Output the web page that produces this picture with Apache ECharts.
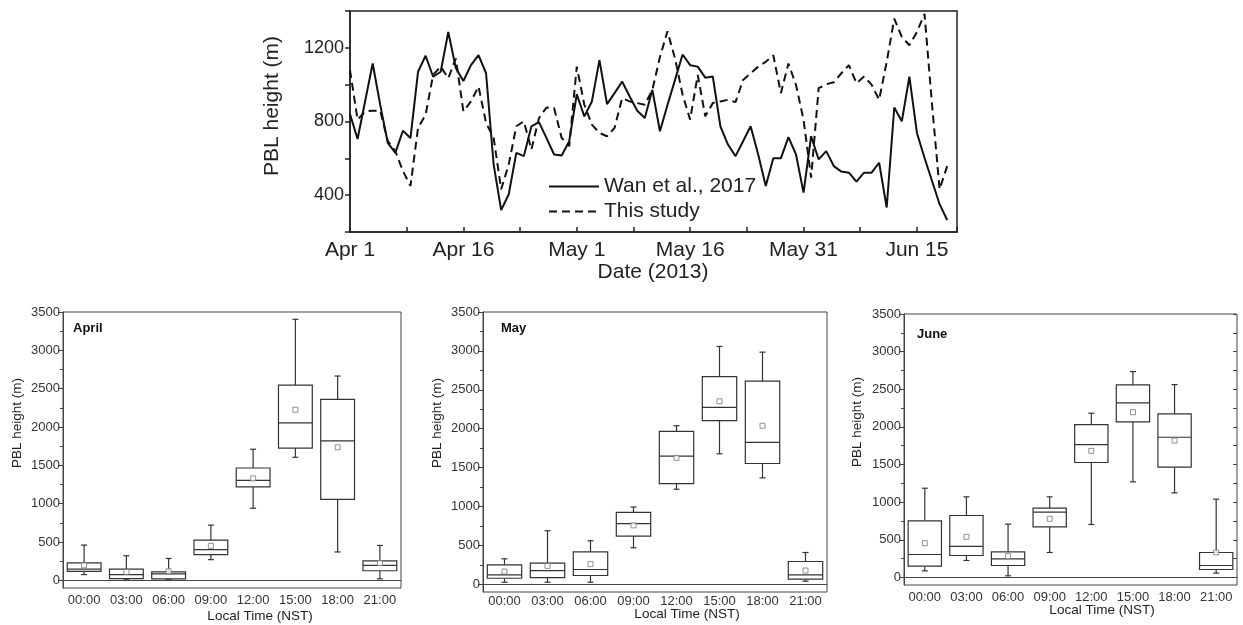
<!DOCTYPE html>
<html>
<head>
<meta charset="utf-8">
<script src="https://cdn.jsdelivr.net/npm/echarts@6/dist/echarts.min.js"></script>
<style>
  html, body { margin: 0; padding: 0; background: #fff; }
  #chart { width: 1243px; height: 625px; }
</style>
</head>
<body>
<div id="chart"></div>
<script>
// daily PBL height, Apr 1 (day 0) .. Jun 19 (day 79)
var wan = [840, 705, 910, 1115, 890, 684, 630, 750, 710, 1070,
  1157, 1043, 1070, 1286, 1090, 1020, 1106, 1160, 1062, 567,
  319, 405, 630, 612, 774, 797, 710, 621, 615, 693,
  948, 828, 909, 1133, 894, 954, 1017, 936, 858, 819,
  972, 747, 890, 1026, 1164, 1106, 1098, 1038, 1044, 774,
  675, 612, 693, 774, 621, 450, 600, 600, 715, 621,
  414, 720, 594, 639, 558, 528, 522, 474, 522, 522,
  576, 333, 876, 801, 1044, 738, 603, 477, 351, 265];
var study = [1080, 810, 855, 858, 858, 693, 639, 531, 450, 765,
  837, 1053, 1098, 1035, 1142, 855, 909, 990, 792, 711,
  432, 567, 774, 801, 648, 819, 876, 873, 711, 666,
  1098, 891, 783, 738, 720, 765, 927, 909, 900, 891,
  972, 1150, 1290, 1142, 945, 810, 1053, 828, 900, 909,
  918, 905, 1026, 1062, 1098, 1124, 1160, 954, 1115, 999,
  810, 495, 981, 1002, 1013, 1062, 1106, 1008, 1044, 1000,
  918, 1124, 1358, 1259, 1214, 1286, 1385, 891, 432, 558];
var dateLabels = ['Apr 1', 'Apr 16', 'May 1', 'May 16', 'May 31', 'Jun 15'];

var hours = ['00:00', '03:00', '06:00', '09:00', '12:00', '15:00', '18:00', '21:00'];
// [low, q1, median, q3, high]
var aprBox = [[75, 118, 145, 227, 460], [15, 22, 75, 145, 320], [15, 20, 85, 110, 285], [270, 335, 400, 525, 720],
  [940, 1220, 1305, 1465, 1710], [1605, 1725, 2055, 2545, 3405], [370, 1055, 1820, 2360, 2665], [20, 125, 195, 255, 455]];
var aprMean = [196, 110, 118, 450, 1330, 2225, 1735, 225];
var mayBox = [[26, 77, 120, 250, 327], [26, 86, 176, 271, 688], [26, 112, 189, 417, 559], [469, 619, 778, 925, 993],
  [1221, 1294, 1647, 1965, 2038], [1677, 2103, 2275, 2670, 3057], [1367, 1552, 1823, 2610, 2984], [39, 65, 120, 292, 408]];
var mayMean = [163, 236, 258, 757, 1625, 2352, 2038, 176];
var junBox = [[88, 150, 305, 752, 1186], [226, 292, 412, 823, 1071], [22, 159, 248, 341, 708], [332, 673, 867, 920, 1071],
  [704, 1527, 1766, 2031, 2182], [1270, 2066, 2319, 2558, 2735], [1124, 1465, 1863, 2173, 2562], [58, 106, 159, 332, 1040]];
var junMean = [456, 540, 283, 779, 1682, 2195, 1819, 332];

var majorVals = [0, 500, 1000, 1500, 2000, 2500, 3000, 3500];
var minorVals = [250, 750, 1250, 1750, 2250, 2750, 3250];

var font = 'Liberation Sans, Arial, sans-serif';
var chart = echarts.init(document.getElementById('chart'));

function renderBox(params, api) {
  var x = api.value(0);
  var low = api.coord([x, api.value(1)]);
  var q1 = api.coord([x, api.value(2)]);
  var med = api.coord([x, api.value(3)]);
  var q3 = api.coord([x, api.value(4)]);
  var high = api.coord([x, api.value(5)]);
  var half = api.size([1, 0])[0] * 0.4;
  var cx = low[0], cap = 3;
  var st = { stroke: '#333', lineWidth: 1.2 };
  return {
    type: 'group',
    children: [
      { type: 'line', shape: { x1: cx, y1: q3[1], x2: cx, y2: high[1] }, style: st },
      { type: 'line', shape: { x1: cx, y1: q1[1], x2: cx, y2: low[1] }, style: st },
      { type: 'line', shape: { x1: cx - cap, y1: high[1], x2: cx + cap, y2: high[1] }, style: st },
      { type: 'line', shape: { x1: cx - cap, y1: low[1], x2: cx + cap, y2: low[1] }, style: st },
      { type: 'rect', shape: { x: cx - half, y: q3[1], width: half * 2, height: q1[1] - q3[1] },
        style: { stroke: '#333', lineWidth: 1.2, fill: '#fff' } },
      { type: 'line', shape: { x1: cx - half, y1: med[1], x2: cx + half, y2: med[1] }, style: st }
    ]
  };
}

var boxGrids = [
  { left: 63, top: 312, width: 338, height: 276 },
  { left: 483, top: 312, width: 344, height: 280 },
  { left: 904, top: 314, width: 333, height: 271 }
];
var labelMargins = [6, 3, 6];
var grids = [{ left: 350, top: 11, width: 607, height: 221, show: true, borderColor: '#222', borderWidth: 1.5 }];
boxGrids.forEach(function (g) {
  grids.push(Object.assign({ show: true, borderColor: '#444', borderWidth: 1 }, g));
});

var xAxes = [{
  type: 'value', gridIndex: 0, min: 0, max: 80.3, interval: 7.5,
  axisLine: { lineStyle: { color: '#222', width: 1.5 } },
  axisTick: { inside: true, length: 5, lineStyle: { color: '#222', width: 1.5 } },
  splitLine: { show: false },
  axisLabel: {
    fontSize: 21, fontFamily: font, color: '#222', margin: 8,
    formatter: function (v) { return v % 15 === 0 ? dateLabels[v / 15] : ''; }
  }
}];
var yAxes = [{
  type: 'value', gridIndex: 0, min: 200, max: 1400, interval: 200,
  axisLine: { show: true, lineStyle: { color: '#222', width: 1.5 } },
  axisTick: { show: true, length: 5, lineStyle: { color: '#222', width: 1.5 } },
  splitLine: { show: false },
  axisLabel: {
    fontSize: 18, fontFamily: font, color: '#222', margin: 6,
    formatter: function (v) { return (v % 400 === 0 && v < 1400) ? String(v) : ''; }
  }
}];

[1, 2, 3].forEach(function (g) {
  xAxes.push({
    type: 'category', gridIndex: g, data: hours,
    axisLine: { lineStyle: { color: '#444' } },
    axisTick: { alignWithLabel: true, inside: true, length: 4, lineStyle: { color: '#444' } },
    axisLabel: { fontSize: 13, fontFamily: font, color: '#333', margin: labelMargins[g - 1], interval: 0 }
  });
  yAxes.push({
    type: 'value', gridIndex: g, min: -100, max: 3500, position: 'left',
    axisLine: { show: true, lineStyle: { color: '#444' } },
    axisTick: { show: true, length: 5, customValues: majorVals, lineStyle: { color: '#444' } },
    axisLabel: {
      fontSize: 13, fontFamily: font, color: '#333', margin: 3, customValues: majorVals,
      formatter: function (v) { return String(v); }
    },
    splitLine: { show: false }
  });
  yAxes.push({
    type: 'value', gridIndex: g, min: -100, max: 3500, position: 'left',
    axisLine: { show: false },
    axisTick: { show: true, length: 3, customValues: minorVals, lineStyle: { color: '#444' } },
    axisLabel: { show: false },
    splitLine: { show: false }
  });
});
// June panel has mirrored ticks on top and right
xAxes.push({
  type: 'category', gridIndex: 3, data: hours, position: 'top',
  axisLine: { show: false },
  axisTick: { alignWithLabel: true, inside: true, length: 4, lineStyle: { color: '#444' } },
  axisLabel: { show: false }
});
yAxes.push({
  type: 'value', gridIndex: 3, min: -100, max: 3500, position: 'right',
  axisLine: { show: false },
  axisTick: { show: true, inside: true, length: 4, customValues: majorVals.concat(minorVals), lineStyle: { color: '#444' } },
  axisLabel: { show: false },
  splitLine: { show: false }
});

var series = [
  { name: 'Wan et al., 2017', type: 'line', xAxisIndex: 0, yAxisIndex: 0, symbol: 'none',
    data: wan.map(function (v, i) { return [i, v]; }),
    lineStyle: { color: '#111', width: 2 }, itemStyle: { color: '#111' } },
  { name: 'This study', type: 'line', xAxisIndex: 0, yAxisIndex: 0, symbol: 'none',
    data: study.map(function (v, i) { return [i, v]; }),
    lineStyle: { color: '#111', width: 2, type: [8, 5] }, itemStyle: { color: '#111' } }
];
[[aprBox, aprMean], [mayBox, mayMean], [junBox, junMean]].forEach(function (m, k) {
  series.push({
    type: 'custom', xAxisIndex: k + 1, yAxisIndex: 1 + k * 2, renderItem: renderBox,
    encode: { x: 0, y: [1, 2, 3, 4, 5] },
    data: m[0].map(function (b, i) { return [i].concat(b); })
  });
  series.push({
    type: 'scatter', xAxisIndex: k + 1, yAxisIndex: 1 + k * 2, symbol: 'rect', symbolSize: 5,
    itemStyle: { color: '#fff', borderColor: '#777', borderWidth: 1 },
    data: m[1].map(function (v, i) { return [i, v]; })
  });
});

function txt(x, y, s, size, opts) {
  return Object.assign({
    type: 'text', x: x, y: y, rotation: 0,
    style: { text: s, fontSize: size, fontFamily: font, fill: '#222', textAlign: 'center', textVerticalAlign: 'middle' }
  }, opts || {});
}

var graphics = [
  txt(272, 106, 'PBL height (m)', 21, { rotation: Math.PI / 2 }),
  txt(653, 272, 'Date (2013)', 21),
  txt(17, 423, 'PBL height (m)', 13.5, { rotation: Math.PI / 2 }),
  txt(437, 423, 'PBL height (m)', 13.5, { rotation: Math.PI / 2 }),
  txt(857, 422, 'PBL height (m)', 13.5, { rotation: Math.PI / 2 }),
  txt(260, 616, 'Local Time (NST)', 13.5),
  txt(687, 614, 'Local Time (NST)', 13.5),
  txt(1102, 610, 'Local Time (NST)', 13.5)
];
[['April', 73, 328], ['May', 501, 328], ['June', 917, 334]].forEach(function (m) {
  graphics.push({
    type: 'text', x: m[1], y: m[2],
    style: { text: m[0], fontSize: 13, fontWeight: 'bold', fontFamily: font, fill: '#111', textAlign: 'left', textVerticalAlign: 'middle' }
  });
});

chart.setOption({
  backgroundColor: '#fff',
  animation: false,
  legend: {
    data: ['Wan et al., 2017', 'This study'],
    orient: 'vertical', left: 543, top: 171, itemWidth: 50, itemHeight: 14, itemGap: 4,
    textStyle: { fontSize: 21, fontFamily: font, color: '#222' },
    itemStyle: { color: 'rgba(0,0,0,0)', borderWidth: 0 }
  },
  grid: grids,
  xAxis: xAxes,
  yAxis: yAxes,
  series: series,
  graphic: graphics
});
</script>
</body>
</html>
